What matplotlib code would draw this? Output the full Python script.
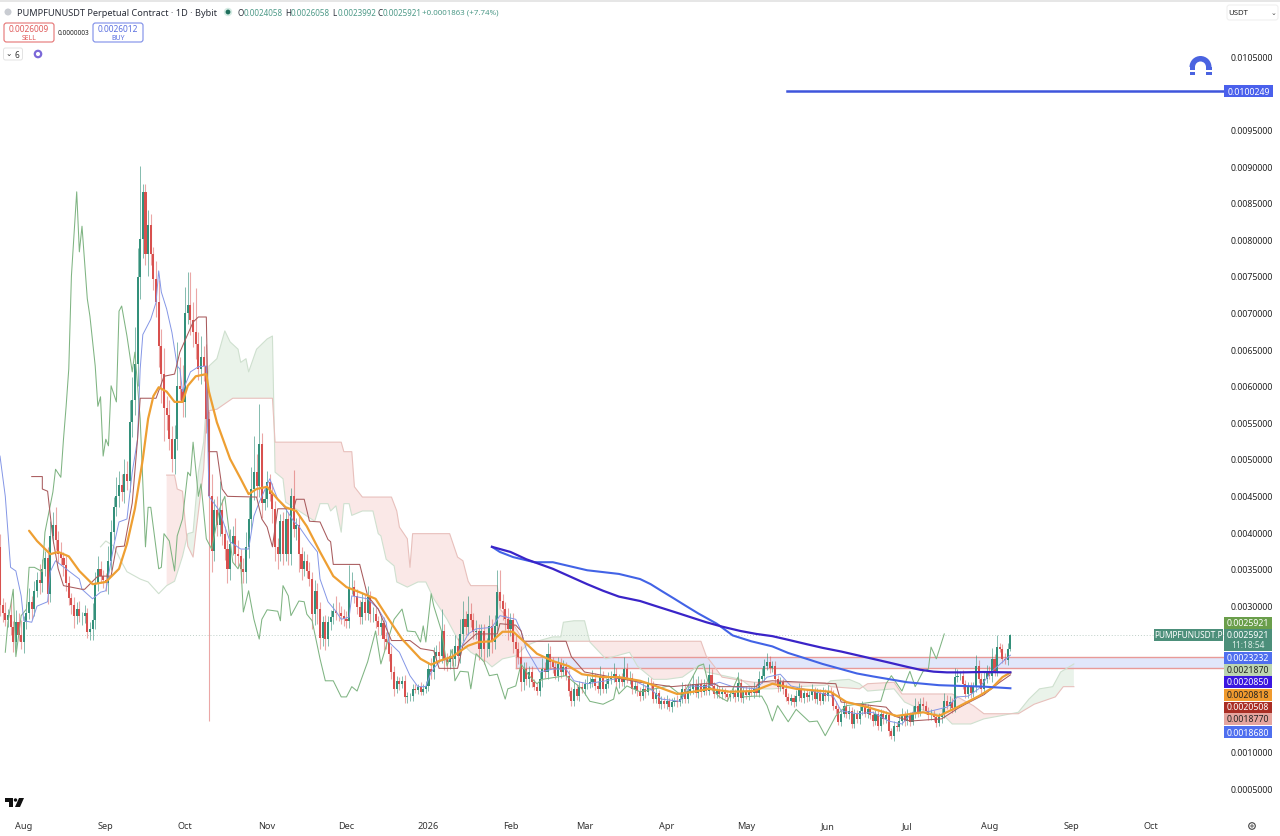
import numpy as np
import matplotlib
matplotlib.use("Agg")
import matplotlib.pyplot as plt
from matplotlib.patches import Rectangle, FancyBboxPatch, Wedge, Polygon, Circle

plt.rcParams['font.family'] = ['Noto Sans', 'DejaVu Sans']

UNIT = 1e-4  # all price lists below are in units of 0.0001

closes = [30,29,28,28.7,27,25,27.8,26,25,27.8,
29,30.5,29.5,32,33.5,33,35,36.5,31.5,39.5,
41,39,37,36.5,35.5,33,31,30,28.5,29.5,
28.5,28.5,29,26.3,26.8,28,33,35,34,33.5,
33,36,40,43.5,45,46.5,45.5,48,47,55,
58,63,74.8,80,86.5,78,82,78,74.6,71.4,
65.5,61.6,57,56,52.7,50,52.7,60,59.6,57.8,
70,71,69,67.3,65.7,62.3,64,62.7,55.5,45,
37.5,43,41,43,39.8,37.7,35,38.4,39.5,37,
36.7,35,34.5,38,41.8,45.9,48.2,46.3,52,44,
44.5,46.9,45.2,43.2,38,37,41.5,37,41.8,37,
45,40.4,41,37,35,36,34.7,33.6,28.8,32,
29.5,25.5,27.7,25.4,27.7,28.4,29.3,29,28.9,28.5,
28.2,27.9,32.5,32.5,31.3,29.8,28.4,30.5,29,31.1,
28.8,28.8,27.9,27,27.6,25.4,25,23.4,20.9,18.6,
19.7,19.3,19.7,17.5,17.6,17.6,18.6,18.5,18.8,18.2,
18.6,19,21.3,20.9,23.1,23.6,23.1,26.5,22.7,22.3,
23.1,22.7,24.5,23.1,26.1,28.1,27,28.8,28,26.4,
26.5,24,26.5,24,24.1,27.2,25,27.2,31.8,30.6,
29.5,28.1,26.8,28,25,24,23,19.5,21.3,19.9,
20.9,19.5,18.9,18.3,19.9,21.3,20.9,23.4,22.3,21.6,
20.4,22,20.9,21.6,20.4,18.3,16.9,18.6,17.6,18.8,
18.6,19.3,19.3,19.6,19.9,19,18.6,20.2,18.6,19.3,
19.9,20.1,20.6,19.5,19.9,19.6,21.3,19.9,20.1,18.6,
19,18.3,17.6,18.6,18.2,19.3,19.1,17.2,18,16.5,
17,16.5,17,16.1,16.8,17,16.8,17.2,18.6,17.2,
18.3,18.6,19.3,18,19.3,18.2,19.1,18.3,20.5,19,
17.9,18.5,17.9,18.2,17.9,17.5,17.9,18.1,17.5,19.4,
17.4,18.3,17.7,18.3,18.1,18.6,18.1,19.9,20.3,21.7,
22.3,21.5,21.7,19.9,18.8,19.5,18.6,17.5,17,17.3,
16.8,17.6,18.6,17.3,18,17.5,17.7,18.4,17.2,18,
17,18,17.6,18.2,18,16.3,15.8,14.1,15.2,16.3,
15.2,15.6,13.8,15.2,14.5,15.6,16.1,15.2,15.9,15,
14.2,15.2,13.5,15.2,14.5,15,12.8,12.2,13.5,13.4,
14.2,15,14.2,15,14.1,15.2,16.3,15.4,16.5,16.3,
15.6,15,15.2,14.7,14,14.7,15.2,17,16.3,16.8,
16,20.2,20.3,20.4,19.3,17.9,18.9,18,18.9,21.7,
20,18.6,20,20.9,20.4,22.7,21,24.3,24.1,22.7,
22.5,24.1,25.921]
first_open = 38.0

wick_up = [1.8,1.0,1.5,0.8,2.2,0.9,1.6,1.1,2.0,0.7,
1.2,1.9,0.8,1.4,1.0,2.1,1.3,0.9,1.5,2.0,
1.8,2.4,1.1,1.6,0.8,1.3,1.0,0.7,1.2,0.9,
1.1,0.6,1.0,0.7,0.9,2.3,1.5,1.8,1.0,0.8,
0.9,2.1,1.6,1.3,2.6,1.8,1.5,2.0,1.7,3.0,
3.2,5.0,4.0,10.0,1.0,1.0,2.0,1.5,1.0,2.5,
3.0,2.2,3.5,1.6,2.1,1.8,2.0,6.0,4.0,3.2,
3.5,4.5,4.5,2.5,6.0,1.6,2.8,1.5,3.0,1.0,
3.0,1.5,2.0,4.0,1.5,1.0,1.2,2.0,1.4,2.5,
2.0,1.0,1.5,2.0,3.0,3.0,5.0,2.5,5.5,1.5,
1.5,1.5,1.0,1.5,1.0,1.2,1.0,1.2,1.5,1.0,
1.0,3.5,1.0,1.5,1.0,1.5,1.0,1.2,1.0,1.5,
1,1,0.8,1,0.8,1,1,2.0,1.5,1.0,
1,1,3,2,1,1,1,1.2,1,1.5,
0.8,1,1,0.7,1,0.8,1,0.8,1,0.8,
0.7,0.5,0.6,0.8,0.6,0.5,0.7,0.6,0.5,0.8,
0.6,0.7,1.0,1.5,1.2,1.0,1.5,3.0,1.0,0.8,
1.0,1.0,1.5,1.0,2.0,2.5,1.2,2.5,1.5,1.0,
1.5,1.0,1.0,1.0,1.5,1.5,1.0,1.5,3.0,3.0,
1.0,1.0,1.5,1.0,1.0,1.0,1.0,1.5,1.0,1.0,
0.8,0.8,0.5,0.5,1.0,1.5,1.0,1.5,1.0,0.7,
.7,1,.8,1,.7,.8,.6,1,.6,.9,
.8,.7,1.2,.6,1.3,.9,.7,1.5,.8,.8,
1,1,1.5,.8,.7,.8,1.7,.8,1,.7,
.8,.6,.6,.8,.5,.9,.8,.6,.7,.5,
.6,.5,.8,.4,.6,.5,.7,.6,1.0,.7,
1,.8,1.2,.7,1,.6,.9,.6,1.5,.8,
.6,.7,.5,.6,.5,.5,.6,.7,.5,1.5,
.6,.5,.7,.6,.5,1,.6,1.2,1.2,1.0,
1.2,.8,.7,.7,.6,.7,.5,.6,.5,.6,
.5,.8,.8,.5,.6,.5,.6,.9,.5,.7,
.6,.8,.6,.9,.7,.5,.6,.5,.7,.8,
.5,.7,.5,.6,.5,.7,.9,.5,.6,.5,
.6,.5,.6,.7,.5,.6,.5,.5,.7,.6,
.8,1,.6,.8,.5,1.0,1.0,.7,.9,1.0,
.6,.5,.7,.5,.5,.6,.8,1.0,.7,.8,
.5,1.2,1.0,.7,.8,.5,.6,.7,.6,1.5,
.8,.7,1.0,.9,.8,1.5,.7,1.7,.5,.6,
.8,.8,.14]

wick_dn = [1.5,1.2,0.8,1.0,1.1,1.4,1.0,0.9,1.0,1.5,
1.0,0.9,1.3,1.0,0.8,1.5,1.2,1.0,1.3,1.0,
1.0,1.4,1.2,1.0,1.5,1.0,0.9,1.2,1.6,1.0,
0.8,1.2,0.9,0.7,1.0,1.5,1.2,1.0,1.0,1.1,
1,1.5,1.2,1.0,1.3,1.5,1.2,1.5,1.3,1.5,
2,2,3,3,2.5,1.5,3,1.5,1.5,2,
3,4,4.5,2,1.5,1.8,2,1.5,1.5,2,
2,1.5,2,2,2,1.5,2,2,2,30.8,
3,1.5,1.5,1.5,1.5,1.5,2,1.5,1.5,1.5,
1.5,2,1.5,1.5,1.5,1.5,1.5,1.5,1.5,2,
1,1,1,2,2,2,1,1.5,1,1.5,
1.5,1,1.5,2.5,1.5,1,1,1,2,1.5,
2,1.5,1,1.5,1,1,1,1,1,1,
1,1,1,1,1,1,1,1,1,1,
1,1,1,1,1,1.5,1,1,1,1,
.6,.8,.6,.8,.9,.6,.7,.5,.6,.5,
.5,.6,.7,1.0,1,1,1,1,1.5,1.2,
1,1,1,1,1,1,1,1,1,1,
1,1.5,1,2,1,1,1.5,1,1,1,
1.5,1.5,1.5,1,1.5,1,1,1.2,1,.8,
1,.7,.5,.5,.7,1,.8,1,.8,.8,
.5,.7,.8,.6,.6,.7,.7,.6,.5,.6,
.6,.8,.7,.6,.7,.5,.6,.8,.5,.6,
.6,.7,.6,.5,.8,.6,.7,.5,.6,.7,
.6,.7,.6,.5,.8,.5,.6,.6,.5,.5,
.6,.5,.7,.5,.6,.5,.7,.6,.5,.6,
.5,.6,.7,.5,.6,.7,.5,.6,.5,.7,
.6,.5,.6,.7,.5,.6,.5,.6,.7,.5,
.6,.7,.5,.6,.5,.7,.5,.6,.5,.6,
.5,.7,.6,.5,.6,.5,.7,.6,.5,.6,
.7,.5,.6,.5,.6,.7,.5,.6,.5,.7,
.6,.5,.7,.6,.5,.6,.7,.5,.6,.5,
.6,.7,.5,.6,.5,.7,.6,.5,.6,.5,
.7,.6,.5,.6,.7,.5,.6,.5,.7,.6,
.5,.6,.7,.5,.6,.5,.6,.7,.5,.6,
.5,.7,.6,.5,.6,.5,.7,.6,.5,.6,
.7,.5,.6,.5,.7,.6,.5,.6,.5,.7,
.6,.5,.7,.6,.5,.8,.6,.7,.5,.6,
.5,.6,.3]

ema_days = [11,14,19,22,26,30,35,40,45,48,51,54,56,58,60,63,66,69,71,74,78,79,82,87,91,94,97,101,105,108,112,116,121,126,131,136,142,147,152,159,163,166,171,177,181,186,190,194,198,203,209,215,220,228,234,242,247,256,262,268,276,285,292,301,314,320,328,339,349,355,362,370,375,379,382]
ema_vals = [40.2,38.8,37,37.3,36.7,34.7,32.9,33.2,35,38.4,43.2,50,55.5,58.6,59.8,59.2,57.8,57.8,60,61.3,61.6,59.2,55,50,47.3,45.2,45.9,46.2,44.5,43.4,42.9,40.8,37.3,34,32.5,31.8,30.9,28.1,25.4,22.7,21.9,22.4,23,24.5,25,25.1,26.4,26.4,25.1,23.4,22.4,21.7,20.6,20.2,20.2,19.7,19.1,17.9,18.2,18.6,18.2,18.3,19.3,18.6,18.2,16.8,16.1,14.9,15.4,14.9,16.1,17.6,18.7,20.2,20.818]

tenkan_days = [0,2,4,6,8,9,12,14,18,19,21,26,30,31,35,38,40,43,45,48,50,52,53,54,56,57,59,60,61,63,65,67,68,69,72,75,78,79,83,87,91,94,96,98,102,105,108,111,113,117,120,121,124,127,129,132,133,139,143,146,147,151,155,158,161,163,166,169,173,177,180,186,189,195,197,199,204,209,214,217,222,229,236,241,246,250,257,261,267,272,277,286,290,295,299,307,315,318,324,330,336,341,345,350,358,362,366,370,375,381,382]
tenkan_vals = [50.4,44.9,35.2,34.7,31.3,27.9,27.7,29.9,30.5,34.6,36.1,34.7,33.6,32.2,30.9,31.8,32,38.1,41.4,41.8,48.2,52.7,62.3,67,68.4,69.1,71.4,75.7,72.8,70.5,67.3,62.7,62.3,59.2,61.9,62.6,62.7,44.9,42.9,38.7,37.7,37.7,42.2,44.1,47.3,44.5,43.2,41.5,40.8,38.7,37.3,33.6,30.5,29.2,28.1,28.4,31.3,30.9,29.5,27.7,25,23.6,20.4,18.9,18.9,20.9,22.3,22.7,23.4,26.1,26.8,27,28.6,28.1,26.5,24,20.9,21.3,21.3,19.7,19.3,19.7,20.2,19.5,18.6,17.2,16.9,19,18.9,19.5,18.9,18.6,20.2,20.6,19,18.3,17.6,15.6,15.2,15.4,14.2,13.8,15.4,15.4,16.1,17.5,17.6,18.6,21,22.9,23.2]

kijun_days = [12,16,16,18,20,22,24,31,32,37,42,44,47,50,52,53,59,62,66,68,73,75,78,79,82,84,86,97,99,101,103,105,111,112,115,117,121,124,125,126,136,139,143,148,155,159,164,166,173,175,180,188,189,195,197,198,214,216,221,242,254,266,270,272,286,287,292,316,318,335,338,344,356,362,365,372,378,382]
kijun_vals = [47.6,47.6,45.9,45.6,39.1,35,32.7,32.2,32.2,34,34,38,38.1,44,52.7,58.3,58.3,61.3,61.6,64.6,68.7,69.4,69.4,51,51,45.9,44.9,44.8,41.8,40.7,38,43.2,43.2,44.5,44.5,41.5,41.4,39,38.7,35.6,35.6,31.3,29.5,25.2,25.2,24.1,23.8,21.4,21.4,24.5,26.1,26.1,27.5,27.3,26.5,25.1,25.1,23,20.9,19.5,18.9,19.3,19.3,18.9,18.9,19.5,19.7,19.3,16.8,16.1,14.9,14.2,14.5,15.9,16.5,17.8,19.5,20.508]

chikou_days = [2,3,5,6,8,10,11,13,16,17,20,21,23,24,25,26,27,29,30,31,33,34,36,37,38,39,40,41,42,44,45,46,48,50,51,53,54,55,56,57,60,61,62,64,66,67,69,71,72,73,75,76,78,80,83,85,88,90,91,92,94,96,98,99,101,105,106,107,109,110,113,115,116,118,121,123,126,129,131,133,135,139,142,144,149,152,154,157,159,160,161,163,164,167,169,171,172,174,177,178,180,183,185,188,191,192,195,197,200,203,205,214,220,223,228,232,233,234,237,242,253,258,264,266,268,272,275,279,281,285,288,290,292,294,298,301,306,309,312,316,320,332,333,335,337,341,344,346,349,351,352,354,357]
chikou_vals = [23.6,27.7,32.2,23,28.6,29.5,35.2,35.2,34.6,40,45.5,48.6,47.5,52.7,57.2,62.3,75,86.5,78.3,81.8,71.9,69.5,62.7,57.2,58.5,50.4,52.7,51.8,60,57.8,70.2,70.9,66.8,61.9,64.6,55.5,46.9,38,43.4,43.4,35,35.2,39.8,38.8,34.7,39.5,41.8,48.2,47.7,52.3,44.9,46.6,39.1,37.7,43.2,44.9,35.9,35,35.9,29.1,32,28.1,25.4,28.1,29.4,29.2,27.9,32.7,31.3,28.6,30.6,30.5,28.8,27.9,22.7,19.7,19.7,17.5,17.5,18.9,18.3,22.3,26.5,22,28.1,29.5,26.5,26.4,25,27.2,25,31.6,29.9,26.4,21.7,24,19.7,21,20.9,18.6,23.4,22.3,20.4,20.6,17.2,18.6,19,22,20.4,19.3,19.9,20.4,18.6,16.9,16.5,17.2,18.9,17.9,19,18.2,19,17.6,21.7,22,19,17.5,16.9,20.2,17.5,17.6,17.6,16.3,14.2,16.3,14.1,15.8,14.1,14.2,12.2,14.9,16.3,16.9,16.9,19.3,20.4,18.3,21,18.9,21,21.3,24.3,22.7,26.1]

span_a_days = [38,40,43,46,48,53,56,60,63,66,69,71,73,75,77,79,82,85,87,90,91,93,94,97,101,103,104,107,108,119,121,124,125,127,129,130,132,133,137,141,143,144,146,149,150,154,158,161,164,169,173,178,184,186,190,195,199,203,209,212,213,217,221,223,229,238,241,247,252,258,265,267,271,280,285,292,302,312,314,321,325,328,338,342,348,357,360,367,372,378,385,389,393,398,401,406]
span_a_vals = [38,38.8,38.1,35.9,34.6,33.6,33.2,31.6,32.7,33.3,36.7,39.8,40,48.2,52.3,62.7,63.7,67.5,66,65,63.2,63.7,61.9,65,66.4,66.8,48.2,47.3,44.1,41.5,43.9,43.9,42.9,43.6,40,43.9,43.9,42.3,42.9,42.9,39.8,39.5,36.3,35.4,33.2,32.5,33.2,33.2,30.9,28.1,25.4,23.6,22.3,21.6,22.7,23.1,24.5,25.1,25.7,25.7,27.7,27.9,27.9,25,22.7,23.6,21.7,19.9,19.9,20.2,22,20.9,20.6,19.9,18.6,18.6,18.9,19.1,19.7,19.9,19.3,18.3,18.6,16.8,15.8,14.9,13.8,13.8,14.5,14.9,15.4,17.2,18.6,18.9,20.9,22]

span_b_days = [63,66,67,69,70,71,73,74,77,78,79,82,86,88,103,104,129,130,133,134,137,148,150,151,154,155,156,170,173,175,177,178,188,189,194,198,222,265,267,270,273,281,285,312,314,325,328,338,341,360,368,372,385,391,399,402,406]
span_b_vals = [47.8,47.8,45.9,45.6,41.4,38.1,36.6,39.8,48.6,55.5,56.6,56.8,57.8,58.3,58.3,52.3,52.3,51,51,46.2,44.8,44.8,42.9,40.7,39.1,35.2,39.8,39.8,36.6,36.1,33.3,32.7,32.7,29.5,27.5,25.1,25.1,25.1,23.1,21.7,20.2,19.7,19.5,19.4,18.9,18.6,19.3,19.5,17.9,17.9,16.3,15.2,15.2,16.5,17.5,18.9,18.9]

ma_dark_days = [186,193,199,209,222,228,234,242,248,255,261,267,273,280,286,292,298,305,311,318,324,330,336,343,348,353,358,363,372,382]
ma_dark_vals = [38,37.3,36.3,35,32.9,32,31.2,30.6,29.9,29.1,28.4,27.7,27.1,26.5,26.1,25.8,25.3,24.7,24.2,23.7,23.2,22.7,22.2,21.6,21.2,20.95,20.85,20.85,20.9,20.85]
ma_blue_days = [186,189,194,202,209,222,234,242,246,250,255,259,264,271,277,284,292,298,305,311,318,324,330,343,349,355,363,372,382]
ma_blue_vals = [38,37.3,36.6,35.9,35.9,34.8,34.3,33.6,32.9,32,30.9,30,28.9,27.5,25.9,25.1,24.4,23.5,22.7,22,21.3,20.7,20.3,19.5,19.3,19.1,19.0,18.9,18.68]

target_level = 100.249
target_start_day = 297.5
zone_top, zone_bottom, zone_start_day = 23.0, 21.45, 195
last_price = 25.921

y_ticks = [0.0005,0.0010,0.0030,0.0035,0.0040,0.0045,0.0050,0.0055,0.0060,0.0065,0.0070,0.0075,0.0080,0.0085,0.0090,0.0095,0.0105]
month_days = [9,40,70,101,131,162,193,221,252,282,313,343,374,405,435]
month_labels = ['Aug','Sep','Oct','Nov','Dec','2026','Feb','Mar','Apr','May','Jun','Jul','Aug','Sep','Oct']

stack_labels = ['0.0025921','0.0023232','0.0021870','0.0020850','0.0020818','0.0020508','0.0018770','0.0018680']
stack_tops = [618,653,665,677,690,702.5,714,727]
stack_heights = [12,11.5,11.5,11.5,11.5,11,12,12]
stack_fill = ['#6A9E4B','#4F6FEF','#BCD5B0','#3B17E0','#F09A2E','#AA2E25','#E5A59F','#4F6FEF']
stack_text = ['#ffffff','#ffffff','#222222','#ffffff','#222222','#ffffff','#222222','#ffffff']

GREEN, RED = '#33907A', '#D8504E'
fig = plt.figure(figsize=(12.8, 8.37), dpi=100, facecolor='white')
ax = fig.add_axes([0, 1-812/837, 1225/1280, 810/837])
for s in ax.spines.values():
    s.set_visible(False)
ax.set_xlim(0, 1225/2.645)
ax.set_ylim((50-(812-460)/7.32)*UNIT, (50+458/7.32)*UNIT)

scale = lambda seq: np.asarray(seq, float)*UNIT
days = np.arange(len(closes))
c = np.array(closes, float)
o = np.r_[first_open, c[:-1]]
h = np.maximum(o, c)+np.array(wick_up)
l = np.minimum(o, c)-np.array(wick_dn)
up = c >= o

# cloud
grid = np.arange(span_a_days[0], span_a_days[-1]+0.25, 0.25)
a_g = np.interp(grid, span_a_days, span_a_vals)
b_g = np.interp(grid, span_b_days, span_b_vals)
valid = grid >= span_b_days[0]
ax.fill_between(grid[valid], a_g[valid]*UNIT, b_g[valid]*UNIT, where=a_g[valid] >= b_g[valid], interpolate=True, color='#DCEBDD', alpha=.6, lw=0, zorder=1)
ax.fill_between(grid[valid], a_g[valid]*UNIT, b_g[valid]*UNIT, where=a_g[valid] < b_g[valid], interpolate=True, color='#F8DAD8', alpha=.6, lw=0, zorder=1)
ax.plot(span_a_days, scale(span_a_vals), color='#CFE0CF', lw=.8, zorder=2)
ax.plot(span_b_days, scale(span_b_vals), color='#E8C0BC', lw=.8, zorder=2)

# zone
ax.add_patch(Rectangle((zone_start_day, zone_bottom*UNIT), ax.get_xlim()[1]-zone_start_day, (zone_top-zone_bottom)*UNIT,
                       facecolor='#D8DFFA', alpha=.75, edgecolor='none', zorder=1.5))
ax.plot([zone_start_day, ax.get_xlim()[1]], [zone_top*UNIT]*2, color='#E89A98', lw=1, zorder=1.6)
ax.plot([zone_start_day, ax.get_xlim()[1]], [zone_bottom*UNIT]*2, color='#E89A98', lw=1, zorder=1.6)
ax.plot([zone_start_day]*2, [zone_bottom*UNIT, zone_top*UNIT], color='#E89A98', lw=1, zorder=1.6)

ax.axhline(last_price*UNIT, color='#BFCFC8', lw=.7, ls=(0, (1, 2)), zorder=1)

# candles
ax.vlines(days[up], l[up]*UNIT, h[up]*UNIT, color=GREEN, lw=.6, alpha=.7, zorder=3)
ax.vlines(days[~up], l[~up]*UNIT, h[~up]*UNIT, color=RED, lw=.8, alpha=.5, zorder=3)
ax.bar(days[up], (c-o)[up]*UNIT, bottom=o[up]*UNIT, width=.78, color=GREEN, lw=0, zorder=3.2)
ax.bar(days[~up], (c-o)[~up]*UNIT, bottom=o[~up]*UNIT, width=.78, color=RED, lw=0, zorder=3.2)

# indicators
ax.plot(chikou_days, scale(chikou_vals), color='#7FB482', lw=.75, zorder=4)
ax.plot(tenkan_days, scale(tenkan_vals), color='#8496E6', lw=.7, zorder=4)
ax.plot(kijun_days, scale(kijun_vals), color='#A85A5C', lw=.75, zorder=4)
ax.plot(ema_days, scale(ema_vals), color='#EE9F32', lw=1.6, zorder=5, solid_capstyle='round')
ax.plot(ma_blue_days, scale(ma_blue_vals), color='#4263E6', lw=1.5, zorder=5)
ax.plot(ma_dark_days, scale(ma_dark_vals), color='#3A24C8', lw=1.6, zorder=5)
ax.plot([target_start_day, ax.get_xlim()[1]], [target_level*UNIT]*2, color='#3F55DC', lw=1.8, zorder=5)

ax.yaxis.tick_right()
ax.set_yticks(y_ticks)
ax.set_yticklabels([f'{v:.7f}' for v in y_ticks], fontsize=6.3, fontweight='semibold', color='#222222')
ax.tick_params(axis='y', length=0, pad=4)
ax.set_xticks(month_days)
ax.set_xticklabels(month_labels, fontsize=6.6, color='#333333')
ax.tick_params(axis='x', length=0, pad=7)
ax.get_xticklabels()[5].set_fontweight('bold')

# interface overlay in pixel space
ui = fig.add_axes([0, 0, 1, 1], zorder=10)
ui.set_xlim(0, 1280); ui.set_ylim(837, 0); ui.axis('off'); ui.patch.set_alpha(0)
ui.add_patch(Rectangle((0, 0), 1280, 2.5, color='#E6E6E6', lw=0))
ui.text(17, 13, 'PUMPFUNUSDT Perpetual Contract · 1D · Bybit', fontsize=6.6, color='#2A2E39', va='center')
ui.add_patch(Circle((228, 13), 4.2, color='#D5EBE3', lw=0))
ui.add_patch(Circle((228, 13), 2.4, color='#1F6F5C', lw=0))
ui.add_patch(Circle((8, 13), 3.5, color='#C9CCD2', lw=0))
for lab, val, x in [('O', '0.0024058', 238), ('H', '0.0026058', 285), ('L', '0.0023992', 332), ('C', '0.0025921', 377)]:
    ui.text(x, 13, lab, fontsize=5.8, color='#2A2E39', va='center')
    ui.text(x+6, 13, val, fontsize=5.8, color='#4E9A88', va='center')
ui.text(422, 13, '+0.0001863 (+7.74%)', fontsize=5.7, color='#4E9A88', va='center')

ui.add_patch(FancyBboxPatch((4, 24), 50, 19, boxstyle='round,pad=0,rounding_size=2.5', fc='white', ec='#E57373', lw=.8))
ui.text(29, 29.5, '0.0026009', fontsize=6, color='#E05A5A', ha='center', va='center')
ui.text(29, 38, 'SELL', fontsize=5, color='#E05A5A', ha='center', va='center')
ui.add_patch(FancyBboxPatch((93, 24), 50, 19, boxstyle='round,pad=0,rounding_size=2.5', fc='white', ec='#7C8DE8', lw=.8))
ui.text(118, 29.5, '0.0026012', fontsize=6, color='#5A6FE0', ha='center', va='center')
ui.text(118, 38, 'BUY', fontsize=5, color='#5A6FE0', ha='center', va='center')
ui.text(73, 33.5, '0.0000003', fontsize=4.7, color='#222222', ha='center', va='center')
ui.add_patch(FancyBboxPatch((3.5, 49), 19, 12, boxstyle='round,pad=0,rounding_size=2', fc='white', ec='#E3E3E3', lw=.7))
ui.text(8.5, 54.5, '⌄', fontsize=5.5, color='#333333', ha='center', va='center')
ui.text(17, 55, '6', fontsize=6, color='#333333', ha='center', va='center')
ui.add_patch(Circle((38, 55), 3.2, fc='none', ec='#7B68D8', lw=1.6))

ui.add_patch(FancyBboxPatch((1227, 6), 51, 15, boxstyle='round,pad=0,rounding_size=2.5', fc='white', ec='#EEEEEE', lw=.7))
ui.text(1238, 13.5, 'USDT', fontsize=5.6, color='#222222', ha='center', va='center')
ui.text(1273.5, 13.5, '⌄', fontsize=5, color='#444444', ha='center', va='center')

ui.add_patch(Wedge((1200.5, 68), 11, 180, 360, width=5.5, color='#4A63E0', lw=0))
ui.add_patch(Rectangle((1189.5, 68), 5.5, 3, color='#4A63E0', lw=0))
ui.add_patch(Rectangle((1206, 68), 5.5, 3, color='#4A63E0', lw=0))
ui.add_patch(Rectangle((1189.5, 72.5), 5.5, 3.5, color='#4A63E0', lw=0))
ui.add_patch(Rectangle((1206, 72.5), 5.5, 3.5, color='#4A63E0', lw=0))

ui.add_patch(Rectangle((1224, 86), 49, 12, color='#4A60EC', lw=0))
ui.text(1248.5, 92, f'{target_level*UNIT:.7f}', fontsize=6.3, color='white', ha='center', va='center')

for t, tp, ht, f, tc in zip(stack_labels, stack_tops, stack_heights, stack_fill, stack_text):
    ui.add_patch(Rectangle((1224, tp), 48, ht, color=f, lw=0))
    ui.text(1248, tp+ht/2, t, fontsize=6.3, color=tc, ha='center', va='center')
ui.add_patch(Rectangle((1224, 630), 48, 22, color='#4C8F7A', lw=0))
ui.text(1248, 636, '0.0025921', fontsize=6.3, color='white', ha='center', va='center')
ui.text(1248, 646, '11:18:54', fontsize=6, color='#DDEEE8', ha='center', va='center')
ui.add_patch(Rectangle((1154, 630), 69, 12, color='#4C8F7A', lw=0))
ui.text(1188.5, 636, 'PUMPFUNUSDT.P', fontsize=6, color='white', ha='center', va='center')

ui.add_patch(Polygon([(5, 799), (13, 799), (13, 808), (9, 808), (9, 803), (5, 803)], color='#111111', lw=0))
ui.add_patch(Circle((15.5, 801), 1.7, color='#111111', lw=0))
ui.add_patch(Polygon([(19, 799), (24, 799), (20, 808), (15, 808)], color='#111111', lw=0))
ui.add_patch(Circle((1252, 827), 3.3, fc='none', ec='#444444', lw=.8))
ui.add_patch(Circle((1252, 827), 1.1, fc='none', ec='#444444', lw=.6))

fig.savefig('out.png', dpi=100, facecolor='white')
